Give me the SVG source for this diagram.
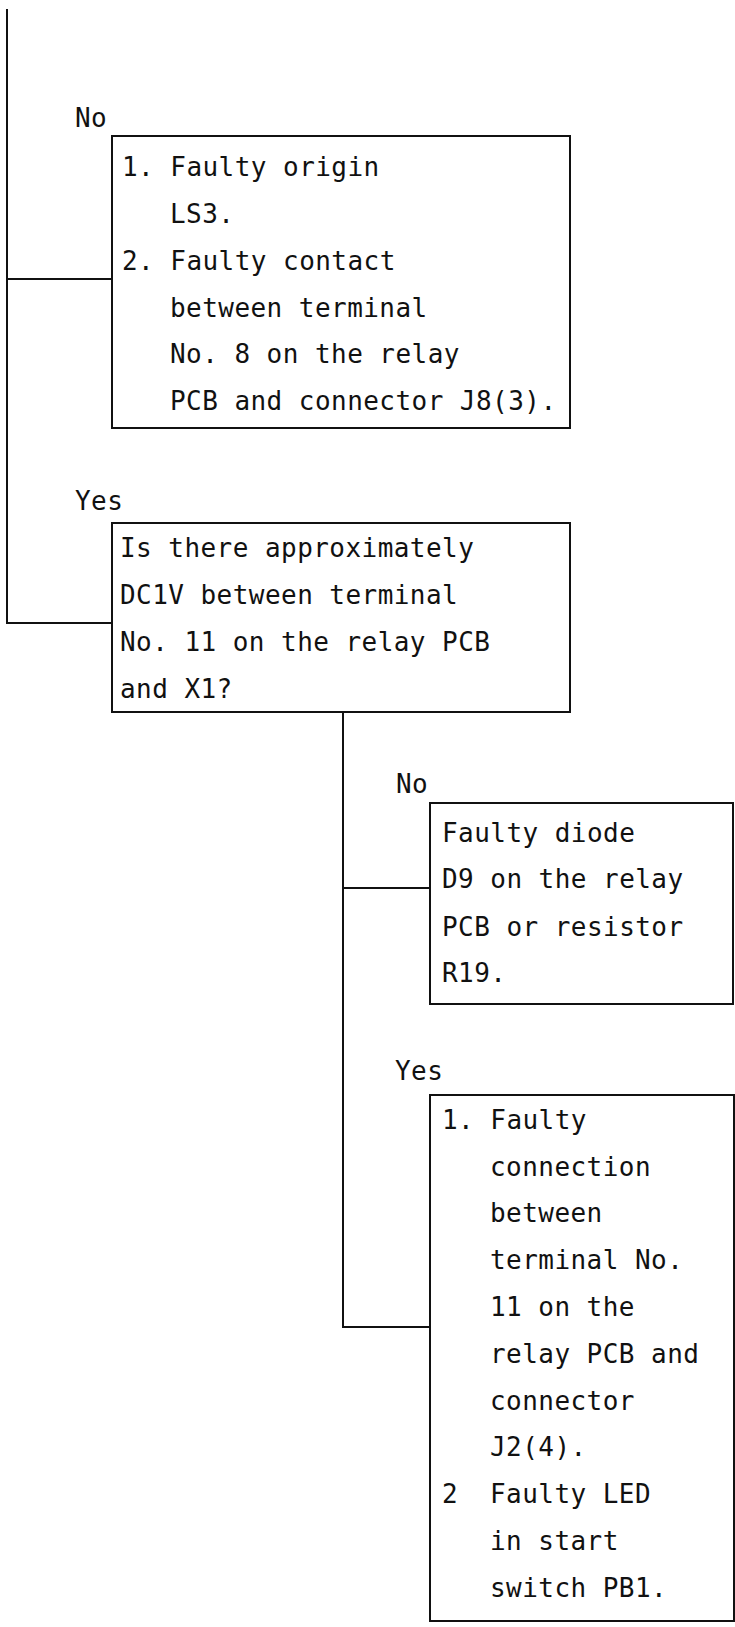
<svg xmlns="http://www.w3.org/2000/svg" width="735" height="1627" viewBox="0 0 735 1627">
<style>
.box{fill:none;stroke:#111;stroke-width:2}
.ln{fill:none;stroke:#111;stroke-width:2}
text{font-family:"DejaVu Sans Mono","Liberation Mono",monospace;font-size:26px;letter-spacing:0.45px;fill:#111}
</style>
<rect width="735" height="1627" fill="#fff"/>
<g id="connectors">
<path class="ln" d="M7 9 V623 H112"/>
<path class="ln" d="M7 279 H112"/>
<path class="ln" d="M343 712 V1327 H430"/>
<path class="ln" d="M343 888 H430"/>
</g>
<g id="label-no-1"><text x="75" y="127">No</text></g>
<g id="box1">
<rect class="box" x="112" y="136" width="458" height="292"/>
<text x="122" y="176">1. Faulty origin</text>
<text x="170" y="223">LS3.</text>
<text x="122" y="270">2. Faulty contact</text>
<text x="170" y="317">between terminal</text>
<text x="170" y="363">No. 8 on the relay</text>
<text x="170" y="410">PCB and connector J8(3).</text>
</g>
<g id="label-yes-1"><text x="75" y="510">Yes</text></g>
<g id="box2">
<rect class="box" x="112" y="523" width="458" height="189"/>
<text x="120" y="557">Is there approximately</text>
<text x="120" y="604">DC1V between terminal</text>
<text x="120" y="651">No. 11 on the relay PCB</text>
<text x="120" y="698">and X1?</text>
</g>
<g id="label-no-2"><text x="396" y="793">No</text></g>
<g id="box3">
<rect class="box" x="430" y="803" width="303" height="201"/>
<text x="442" y="842">Faulty diode</text>
<text x="442" y="888">D9 on the relay</text>
<text x="442" y="936">PCB or resistor</text>
<text x="442" y="982">R19.</text>
</g>
<g id="label-yes-2"><text x="395" y="1080">Yes</text></g>
<g id="box4">
<rect class="box" x="430" y="1095" width="304" height="526"/>
<text x="442" y="1129">1. Faulty</text>
<text x="490" y="1176">connection</text>
<text x="490" y="1222">between</text>
<text x="490" y="1269">terminal No.</text>
<text x="490" y="1316">11 on the</text>
<text x="490" y="1363">relay PCB and</text>
<text x="490" y="1410">connector</text>
<text x="490" y="1456">J2(4).</text>
<text x="442" y="1503">2</text>
<text x="490" y="1503">Faulty LED</text>
<text x="490" y="1550">in start</text>
<text x="490" y="1597">switch PB1.</text>
</g>
</svg>
